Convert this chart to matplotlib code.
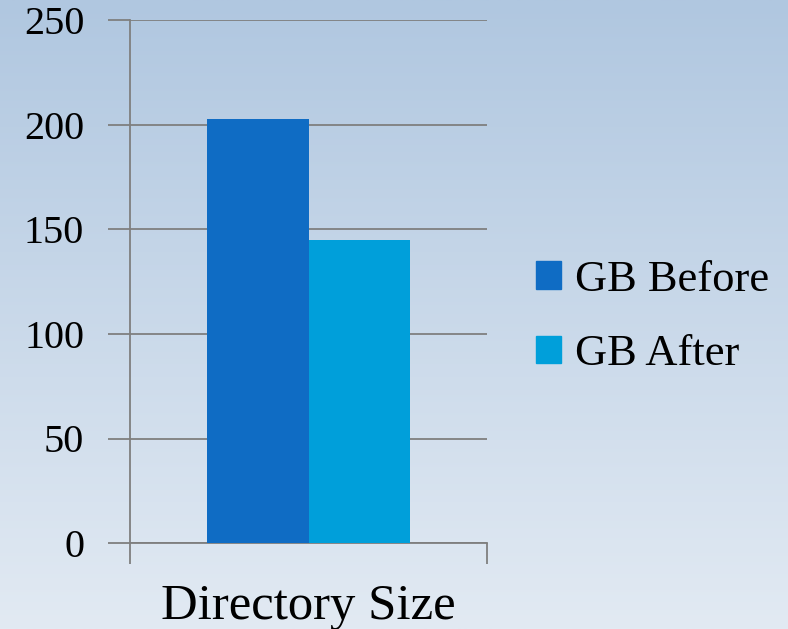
import matplotlib
matplotlib.use("Agg")
import matplotlib.pyplot as plt
import numpy as np
from matplotlib.patches import Patch

categories = ["Directory Size"]
series_names = ["GB Before", "GB After"]
gb_before = [203]
gb_after = [145]
y_ticks = [0, 50, 100, 150, 200, 250]
colors = ["#0F6CC4", "#009FDA"]

plt.rcParams['font.family'] = ['Liberation Serif', 'DejaVu Serif']

W, H = 788, 629
fig = plt.figure(figsize=(W / 100, H / 100), dpi=100)

# background gradient
bg = fig.add_axes([0, 0, 1, 1], zorder=-10)
top = np.array([176, 199, 224]) / 255
bot = np.array([226, 234, 243]) / 255
t = np.linspace(0, 1, 256)[:, None]
grad = top[None, :] * (1 - t) + bot[None, :] * t
bg.imshow(grad[:, None, :], aspect='auto', extent=[0, 1, 0, 1])
bg.axis('off')

ax = fig.add_axes([130 / W, (H - 543) / H, (487 - 130) / W, (543 - 20.5) / H])
ax.patch.set_alpha(0)

x = np.arange(len(categories))
w = 0.285
ax.bar(x - w / 2, gb_before, width=w, color=colors[0], label=series_names[0], zorder=3)
ax.bar(x + w / 2, gb_after, width=w, color=colors[1], label=series_names[1], zorder=3)

ax.set_xlim(-0.5, 0.5)
ax.set_ylim(0, 250)
ax.set_yticks(y_ticks)
ax.set_yticklabels([str(v) for v in y_ticks], fontsize=29)
ax.yaxis.grid(True, color="#7f7f7f", linewidth=1.3, zorder=0)
ax.tick_params(axis='y', length=16, width=1.3, color="#7f7f7f", pad=17)

ax.set_xticks(x)
ax.set_xticklabels(categories, fontsize=36.5)
ax.tick_params(axis='x', which='major', length=0, pad=29)
ax.set_xticks([-0.5, 0.5], minor=True)
ax.tick_params(axis='x', which='minor', length=15, width=1.3, color="#7f7f7f")

for s in ['top', 'right']:
    ax.spines[s].set_visible(False)
for s in ['left', 'bottom']:
    ax.spines[s].set_color("#7f7f7f")
    ax.spines[s].set_linewidth(1.3)

handles = [Patch(color=colors[0]), Patch(color=colors[1])]
fig.legend(handles, series_names, loc='center left', bbox_to_anchor=(536 / W, (H - 317) / H),
           frameon=False, fontsize=32, handlelength=0.57, handleheight=0.57,
           handletextpad=0.3, labelspacing=0.78, borderpad=0, borderaxespad=0)

fig.savefig("out.png", dpi=100)
